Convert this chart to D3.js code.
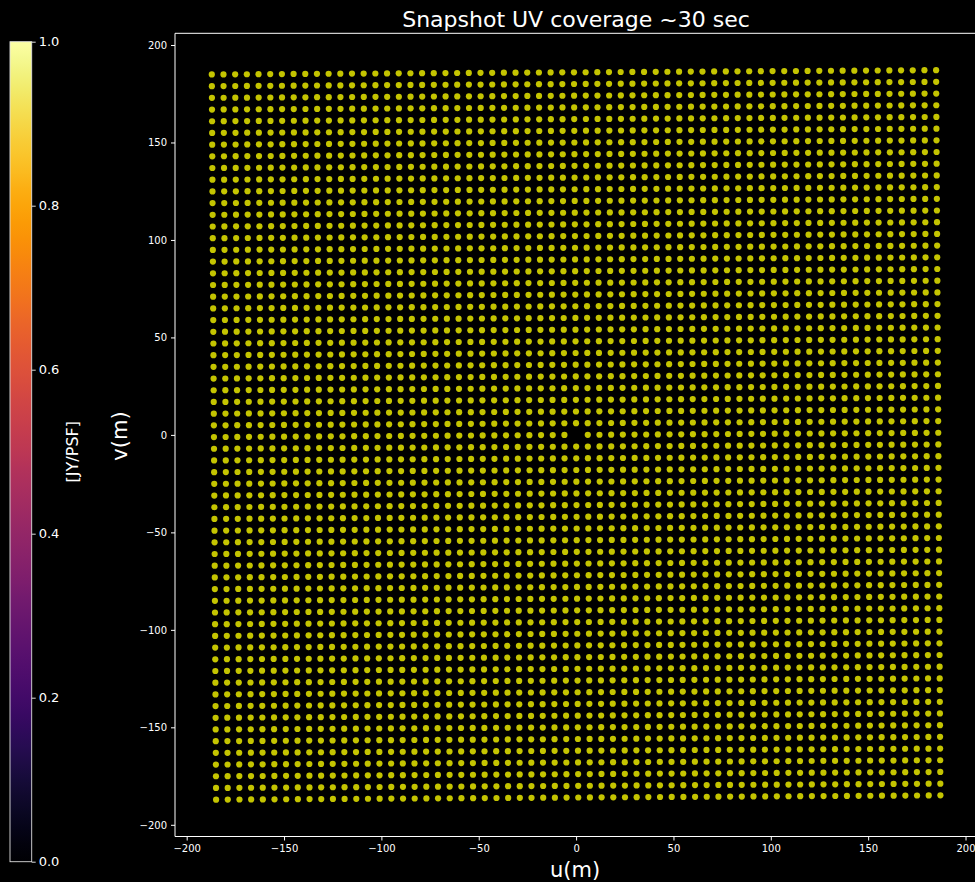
<!DOCTYPE html>
<html>
<head>
<meta charset="utf-8">
<script src="https://cdn.jsdelivr.net/npm/d3@7"></script>
<style>
  html, body { margin: 0; padding: 0; background: #000; }
  svg { display: block; }
  text { font-family: "DejaVu Sans", sans-serif; fill: #fff; }
</style>
</head>
<body>
<svg id="chart" width="975" height="882"></svg>
<script>
// Baseline lags of the 32 x 32 antenna grid (6 m pitch), in metres, east and north
const uLags = [-186,-180,-174,-168,-162,-156,-150,-144,-138,-132,-126,-120,-114,-108,-102,-96,
  -90,-84,-78,-72,-66,-60,-54,-48,-42,-36,-30,-24,-18,-12,-6,0,6,12,18,24,30,36,42,48,54,60,
  66,72,78,84,90,96,102,108,114,120,126,132,138,144,150,156,162,168,174,180,186];
const vLags = [-186,-180,-174,-168,-162,-156,-150,-144,-138,-132,-126,-120,-114,-108,-102,-96,
  -90,-84,-78,-72,-66,-60,-54,-48,-42,-36,-30,-24,-18,-12,-6,0,6,12,18,24,30,36,42,48,54,60,
  66,72,78,84,90,96,102,108,114,120,126,132,138,144,150,156,162,168,174,180,186];
// Projection rotation of the snapshot (degrees, counter-clockwise)
const snapshotRotationDeg = [0.34];

const xTicks = [-200, -150, -100, -50, 0, 50, 100, 150, 200];
const yTicks = [-200, -150, -100, -50, 0, 50, 100, 150, 200];
const cbTicks = [0.0, 0.2, 0.4, 0.6, 0.8, 1.0];

const titleText = "Snapshot UV coverage ~30 sec";
const xLabel = "u(m)";
const yLabel = "v(m)";
const cbLabel = "[JY/PSF]";

// Build the uv points (zero-spacing autocorrelation excluded)
const th = snapshotRotationDeg[0] * Math.PI / 180;
const uv = [];
for (const du of uLags) {
  for (const dv of vLags) {
    if (du === 0 && dv === 0) continue;
    uv.push({
      u: du * Math.cos(th) - dv * Math.sin(th),
      v: du * Math.sin(th) + dv * Math.cos(th)
    });
  }
}

const svg = d3.select("#chart");
svg.append("rect").attr("width", 975).attr("height", 882).attr("fill", "#000");

const x = d3.scaleLinear().domain([-206, 206]).range([175, 977.2]);
const y = d3.scaleLinear().domain([-206, 206]).range([836.5, 33.3]);

// Points
const plot = svg.append("g");
plot.selectAll("circle")
  .data(uv)
  .join("circle")
  .attr("cx", d => x(d.u))
  .attr("cy", d => y(d.v))
  .attr("r", 3.1)
  .attr("fill", "#c4c400");

// Spines (right edge falls outside the page)
const spine = svg.append("g").attr("stroke", "#fff").attr("stroke-width", 1).attr("fill", "none");
spine.append("line").attr("x1", 175).attr("x2", 975).attr("y1", 33.3).attr("y2", 33.3);
spine.append("line").attr("x1", 175).attr("x2", 975).attr("y1", 836.5).attr("y2", 836.5);
spine.append("line").attr("x1", 175).attr("x2", 175).attr("y1", 33.3).attr("y2", 836.5);

// Axes
const xAxis = d3.axisBottom(x).tickValues(xTicks).tickSize(4).tickPadding(4)
  .tickFormat(d => d < 0 ? "\u2212" + Math.abs(d) : String(d));
const gx = svg.append("g").attr("transform", "translate(0,836.5)").call(xAxis);
gx.select(".domain").remove();
gx.selectAll("line").attr("stroke", "#fff");
gx.selectAll("text").attr("font-size", 10).attr("fill", "#fff");

const yAxis = d3.axisLeft(y).tickValues(yTicks).tickSize(4).tickPadding(4)
  .tickFormat(d => d < 0 ? "\u2212" + Math.abs(d) : String(d));
const gy = svg.append("g").attr("transform", "translate(175,0)").call(yAxis);
gy.select(".domain").remove();
gy.selectAll("line").attr("stroke", "#fff");
gy.selectAll("text").attr("font-size", 10).attr("fill", "#fff");

// Titles
svg.append("text").attr("x", 576).attr("y", 27).attr("text-anchor", "middle")
  .attr("font-size", 22).text(titleText);
svg.append("text").attr("x", 575).attr("y", 877).attr("text-anchor", "middle")
  .attr("font-size", 21).text(xLabel);
svg.append("text").attr("transform", "translate(127,436) rotate(-90)")
  .attr("text-anchor", "middle").attr("font-size", 21).text(yLabel);

// Colorbar (inferno, 0 to 1)
const cbX = 10, cbW = 21.7, cbTop = 41.7, cbBot = 861.7;
const cbScale = d3.scaleLinear().domain([0, 1]).range([cbBot, cbTop]);
const defs = svg.append("defs");
const grad = defs.append("linearGradient").attr("id", "inferno")
  .attr("x1", 0).attr("y1", 1).attr("x2", 0).attr("y2", 0);
d3.range(0, 1.0001, 0.02).forEach(t => {
  grad.append("stop").attr("offset", t).attr("stop-color", d3.interpolateInferno(t));
});
svg.append("rect").attr("x", cbX).attr("y", cbTop).attr("width", cbW)
  .attr("height", cbBot - cbTop).attr("fill", "url(#inferno)")
  .attr("stroke", "#ddd").attr("stroke-width", 0.9);

const cbAxis = d3.axisRight(cbScale).tickValues(cbTicks).tickSize(4).tickPadding(3)
  .tickFormat(d3.format(".1f"));
const gc = svg.append("g").attr("transform", `translate(${cbX + cbW},0)`).call(cbAxis);
gc.select(".domain").remove();
gc.selectAll("line").attr("stroke", "#ddd");
gc.selectAll("text").attr("font-size", 13).attr("fill", "#fff");

svg.append("text").attr("transform", `translate(78,${(cbTop + cbBot) / 2}) rotate(-90)`)
  .attr("text-anchor", "middle").attr("font-size", 16).text(cbLabel);
</script>
</body>
</html>
